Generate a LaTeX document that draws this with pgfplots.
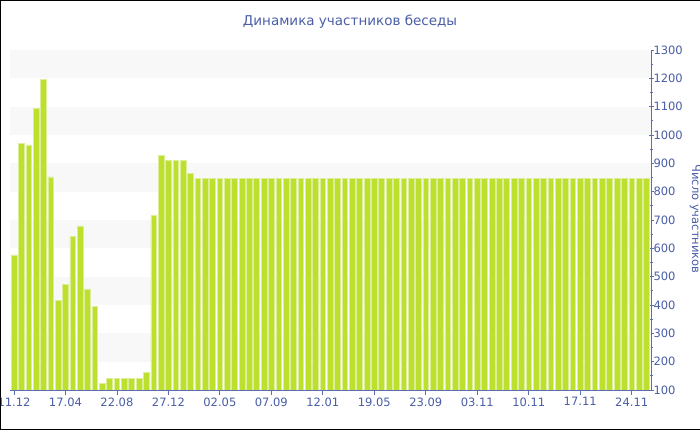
\documentclass[border=0pt]{standalone}
\usepackage{fontspec}
\setmainfont{DejaVu Sans}
\usepackage{pgfplots}
\pgfplotsset{compat=1.18}
\definecolor{txt}{HTML}{4A5EA8}
\definecolor{axl}{HTML}{5A6EB0}
\definecolor{barc}{HTML}{BDE02E}
\definecolor{bare}{HTML}{DDEE9A}
\definecolor{stripe}{HTML}{F8F8F8}
\begin{document}
\begin{tikzpicture}[x=1pt,y=1pt]
\path[use as bounding box] (0,0) rectangle (700,430);
\clip (0,0) rectangle (700,430);
\fill[white] (0,0) rectangle (700,430);
\begin{axis}[
  at={(10pt,40pt)}, anchor=south west,
  scale only axis, width=641pt, height=340pt,
  xmin=-0.54, xmax=86.63, ymin=100, ymax=1300,
  axis x line*=bottom, axis y line*=right,
  axis line style={axl, line width=0.8pt},
  ybar, bar width=0.78,
  xtick={0,7,...,84},
  xticklabels={11.12,17.04,22.08,27.12,02.05,07.09,12.01,19.05,23.09,03.11,10.11,17.11,24.11},
  ytick={100,200,...,1300},
  minor y tick num=1,
  tick style={axl, line width=0.8pt},
  major tick length=5pt, minor tick length=3pt,
  x tick style={/pgfplots/tick align=outside},
  y tick style={/pgfplots/tick align=center},
  ticklabel style={font=\fontsize{11.5}{13}\selectfont, text=txt},
  xticklabel style={yshift=1pt},
  yticklabel style={xshift=-1pt},
  /pgf/number format/assume math mode=true,
  /pgf/number format/1000 sep={},
]
\fill[stripe] (axis cs:-0.54,1200) rectangle (axis cs:86.63,1300);
\fill[stripe] (axis cs:-0.54,1000) rectangle (axis cs:86.63,1100);
\fill[stripe] (axis cs:-0.54,800) rectangle (axis cs:86.63,900);
\fill[stripe] (axis cs:-0.54,600) rectangle (axis cs:86.63,700);
\fill[stripe] (axis cs:-0.54,400) rectangle (axis cs:86.63,500);
\fill[stripe] (axis cs:-0.54,200) rectangle (axis cs:86.63,300);
\addplot[fill=barc, draw=bare, line width=0.6pt] coordinates {
(0,577)(1,969)(2,965)(3,1094)(4,1197)(5,852)(6,415)(7,472)(8,642)(9,679)
(10,457)(11,395)(12,124)(13,141)(14,141)(15,141)(16,141)(17,141)(18,163)(19,715)
(20,929)(21,910)(22,910)(23,910)(24,865)(25,846)(26,846)(27,846)(28,846)(29,846)
(30,846)(31,846)(32,846)(33,846)(34,846)(35,846)(36,846)(37,846)(38,846)(39,846)
(40,846)(41,846)(42,846)(43,846)(44,846)(45,846)(46,846)(47,846)(48,846)(49,846)
(50,846)(51,846)(52,846)(53,846)(54,846)(55,846)(56,846)(57,846)(58,846)(59,846)
(60,846)(61,846)(62,846)(63,846)(64,846)(65,846)(66,846)(67,846)(68,846)(69,846)
(70,846)(71,846)(72,846)(73,846)(74,846)(75,846)(76,846)(77,846)(78,846)(79,846)
(80,846)(81,846)(82,846)(83,846)(84,846)(85,846)(86,846)
};
\end{axis}
\node[text=txt, font=\fontsize{13.5}{16}\selectfont] at (350,408) {Динамика участников беседы};
\node[text=txt, rotate=-90, font=\fontsize{11.5}{13}\selectfont] at (695,211) {Число участников};
\draw[black, line width=1.5pt] (700,430) -- (0,430) -- (0,0) -- (700,0);
\end{tikzpicture}
\end{document}
